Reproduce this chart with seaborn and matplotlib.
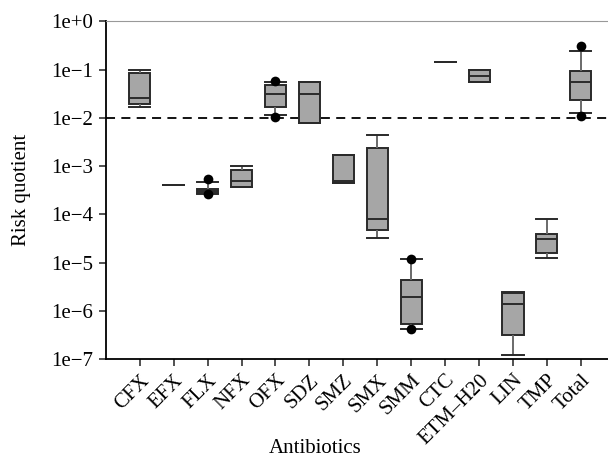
import numpy as np
import pandas as pd
import matplotlib
matplotlib.use("Agg")
import matplotlib.pyplot as plt
import seaborn as sns

# Values: whisker low, Q1, median, Q3, whisker high
drugs = ["CFX", "EFX", "FLX", "NFX", "OFX", "SDZ", "SMZ", "SMX",
         "SMM", "CTC", "ETM\u2013H20", "LIN", "TMP", "Total"]
box_vals = {
    "CFX": [0.0166, 0.019, 0.026, 0.083, 0.10],
    "EFX": [4.1e-4],
    "FLX": [2.6e-4, 2.8e-4, 3.1e-4, 3.4e-4, 4.7e-4],
    "NFX": [3.6e-4, 3.6e-4, 4.8e-4, 8.1e-4, 1.0e-3],
    "OFX": [0.0115, 0.017, 0.031, 0.047, 0.054],
    "SDZ": [0.0079, 0.0079, 0.031, 0.054, 0.054],
    "SMZ": [4.4e-4, 4.4e-4, 4.8e-4, 1.7e-3, 1.7e-3],
    "SMX": [3.3e-5, 4.8e-5, 8.1e-5, 2.36e-3, 4.5e-3],
    "SMM": [4.2e-7, 5.3e-7, 1.95e-6, 4.4e-6, 1.18e-5],
    "CTC": [0.146],
    "ETM\u2013H20": [0.054, 0.054, 0.075, 0.098, 0.098],
    "LIN": [1.2e-7, 3.2e-7, 1.38e-6, 2.3e-6, 2.4e-6],
    "TMP": [1.26e-5, 1.6e-5, 3.1e-5, 3.95e-5, 8.1e-5],
    "Total": [0.0124, 0.023, 0.054, 0.094, 0.243],
}
# extreme points drawn as dots
dot_drugs = ["FLX", "FLX", "OFX", "OFX", "SMM", "SMM", "Total", "Total"]
dot_vals = [5.5e-4, 2.6e-4, 0.058, 0.0106, 1.18e-5, 4.2e-7, 0.31, 0.011]

rows = [(d, v) for d in drugs for v in box_vals[d]]
data = pd.DataFrame(rows, columns=["drug", "value"])
dots = pd.DataFrame({"drug": dot_drugs, "value": dot_vals})

plt.rcParams['font.family'] = ['Liberation Serif', 'DejaVu Serif']

fig = plt.figure(figsize=(6.08, 4.58), dpi=100)
ax = fig.add_axes([0.174, 0.216, 0.826, 0.7375])

sns.boxplot(data=data, x="drug", y="value", order=drugs, ax=ax,
            color="#a6a6a6", saturation=1, linecolor="#2a2a2a",
            linewidth=1.4, width=0.62, whis=np.inf, fliersize=0,
            log_scale=True, capwidths=0.62,
            whiskerprops=dict(color="#6a6a6a"))
sns.stripplot(data=dots, x="drug", y="value", order=drugs, ax=ax,
              jitter=False, color="black", size=7, zorder=5)

ax.axhline(1e-2, color="black", lw=1.3, ls=(0, (5, 3.5)), zorder=1)

ax.set_yscale("log")
ax.set_ylim(1e-7, 1e0)
ax.set_xlim(-1, 13.8)
yt = [10.0 ** k for k in range(-7, 1)]
ax.set_yticks(yt)
ax.set_yticklabels([("1e+0" if k == 0 else "1e\u2212%d" % -k) for k in range(-7, 1)])
ax.yaxis.set_minor_locator(matplotlib.ticker.NullLocator())
ax.set_xticks(range(len(drugs)))
ax.set_xticklabels(drugs, rotation=45, ha="right", rotation_mode="anchor")

ax.tick_params(axis="both", labelsize=15, length=5, width=1.2, color="#333333")
ax.tick_params(axis="y", pad=4)
ax.spines["right"].set_visible(False)
ax.spines["top"].set_color("#999999")
ax.spines["left"].set_linewidth(1.3)
ax.spines["bottom"].set_linewidth(1.3)

ax.set_xlabel("Antibiotics", fontsize=15)
ax.set_ylabel("Risk quotient", fontsize=15)
ax.xaxis.set_label_coords(0.416, -0.238)
ax.yaxis.set_label_coords(-0.148, 0.5)

fig.savefig("out.png", dpi=100)
